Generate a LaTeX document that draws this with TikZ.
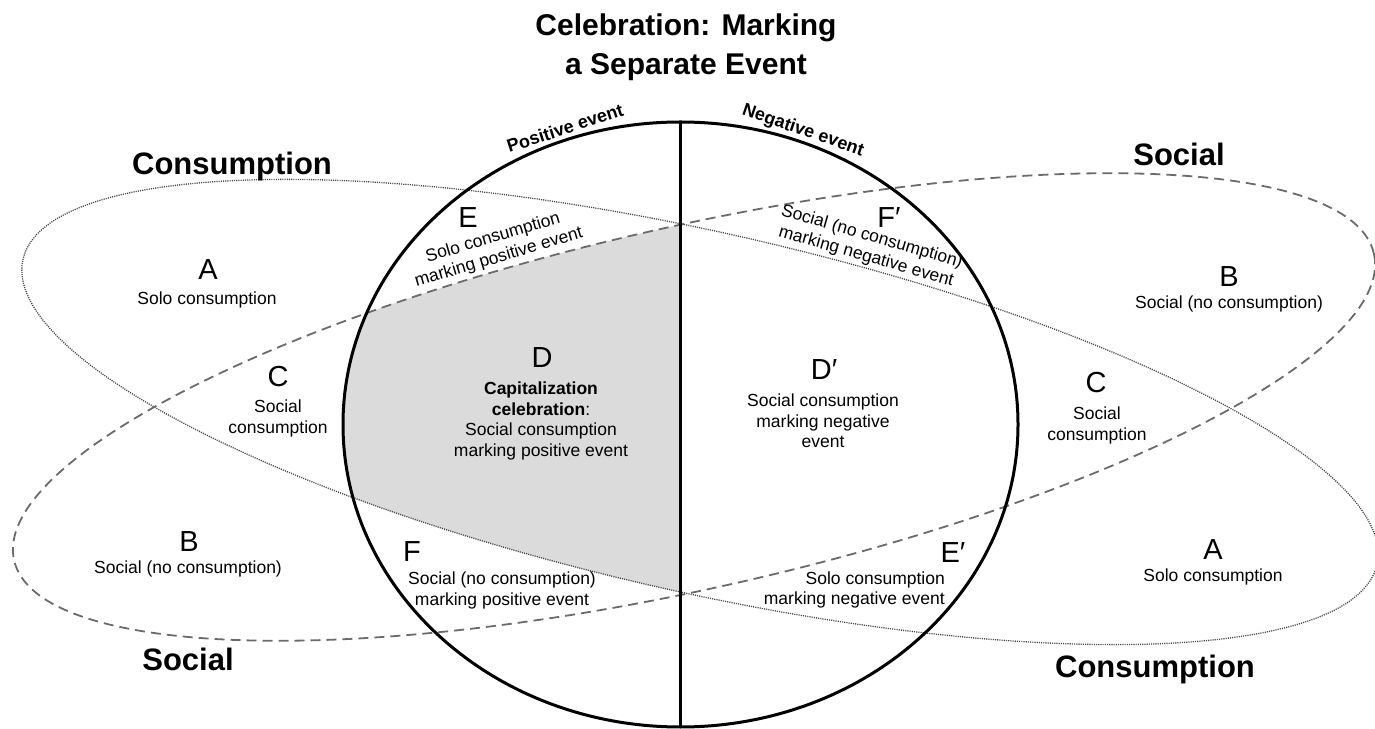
\documentclass[tikz,border=0pt]{standalone}
\usepackage{fontspec}
\setmainfont{Liberation Sans}
\usepackage{tikz}
\usetikzlibrary{shapes.geometric}
\tikzset{
  zone_letter/.style = {inner sep=0pt, anchor=base,
    font=\fontsize{29}{29}\selectfont},% lettre de la zone
  zone_text/.style = {inner sep=0pt, align=center, anchor=base,
    font=\fontsize{17.5}{20.5}\selectfont},% texte de la zone (base = derniere ligne)
  set_label/.style = {inner sep=0pt, anchor=base,
    font=\fontsize{31}{31}\selectfont\bfseries},% nom de l'ensemble
  event_label/.style = {inner sep=0pt,
    font=\fontsize{18}{18}\selectfont\bfseries},% evenement positif / negatif
  event_circle/.style = {ellipse, draw=black, line width=3pt, inner sep=0pt,
    outer sep=0pt, minimum width=675pt, minimum height=605pt},
  social_set/.style = {draw=black!58, line width=1.8pt,
    dash pattern=on 10pt off 6pt},% ensemble social, tirets
  consumption_set/.style = {draw=black!72, line width=1.3pt,
    dash pattern=on 1.1pt off 1.1pt}% ensemble consommation, pointilles
}

\begin{document}
\begin{tikzpicture}[x=1pt, y=1pt]
  \useasboundingbox (0,0) rectangle (1375,728);
  % zone D : social et consommation, evenement positif
  \begin{scope}
    \clip (680.5,303.5) ellipse [x radius=337.5, y radius=302.5];
    \clip (0,0) rectangle (680,728);
    \clip[rotate around={-12.7:(700,316)}] (700,316) ellipse [x radius=694, y radius=180];
    \fill[black!14, rotate around={12.7:(694,321)}] (694,321) ellipse [x radius=697, y radius=181];
  \end{scope}
  \draw[consumption_set, rotate around={-12.7:(700,316)}] (700,316) ellipse [x radius=694, y radius=180];
  \draw[social_set, rotate around={12.7:(694,321)}] (694,321) ellipse [x radius=697, y radius=181];
  \node[event_circle] (event) at (680.5,303.5) {};
  \draw[line width=3pt] (event.north) -- (event.south);

  \node[align=center, inner sep=0pt, anchor=base,
    font=\fontsize{30}{39}\selectfont\bfseries] (title) at (686,653)
    {Celebration: Marking\\a Separate Event};
  \node[event_label, rotate=18] (positive) at (565,600) {Positive event};
  \node[event_label, rotate=-19] (negative) at (803,597) {Negative event};

  \node[set_label] (consumption_top) at (232,553) {Consumption};
  \node[set_label] (social_top) at (1179,562) {Social};
  \node[set_label] (social_bottom) at (188,58) {Social};
  \node[set_label] (consumption_bottom) at (1155,51) {Consumption};

  % a gauche
  \node[zone_letter] (a_left) at (208,448) {A};
  \node[zone_text] (a_left_text) at (207,423) {Solo consumption};
  \node[zone_letter] (c_left) at (278,341) {C};
  \node[zone_text] (c_left_text) at (278,294.5) {Social\\consumption};
  \node[zone_letter] (b_left) at (189,176) {B};
  \node[zone_text] (b_left_text) at (188,154) {Social (no consumption)};

  % a droite
  \node[zone_letter] (b_right) at (1229,441) {B};
  \node[zone_text] (b_right_text) at (1229,419) {Social (no consumption)};
  \node[zone_letter] (c_right) at (1096,335) {C};
  \node[zone_text] (c_right_text) at (1097,287.5) {Social\\consumption};
  \node[zone_letter] (a_right) at (1213,168) {A};
  \node[zone_text] (a_right_text) at (1213,146) {Solo consumption};

  % dans le cercle
  \node[zone_letter] (e) at (468,500) {E};
  \node[zone_text, anchor=center, rotate=16.5] (e_text) at (496,480)
    {Solo consumption\\marking positive event};
  \node[zone_letter] (d) at (542,360) {D};
  \node[zone_text] (d_text) at (541,271.5)
    {\textbf{Capitalization}\\\textbf{celebration}:\\Social consumption\\marking positive event};
  \node[zone_letter] (f) at (412,166) {F};
  \node[zone_text] (f_text) at (502,122.5)
    {Social (no consumption)\\marking positive event};
  \node[zone_letter] (f_prime) at (889,500) {F′};
  \node[zone_text, anchor=center, rotate=-16] (f_prime_text) at (869,481)
    {Social (no consumption)\\marking negative event};
  \node[zone_letter] (d_prime) at (824,348) {D′};
  \node[zone_text] (d_prime_text) at (823,280)
    {Social consumption\\marking negative\\event};
  \node[zone_letter] (e_prime) at (953,165) {E′};
  \node[zone_text, align=right, anchor=base east] (e_prime_text) at (945,123.5)
    {Solo consumption\\marking negative event};
\end{tikzpicture}
\end{document}
